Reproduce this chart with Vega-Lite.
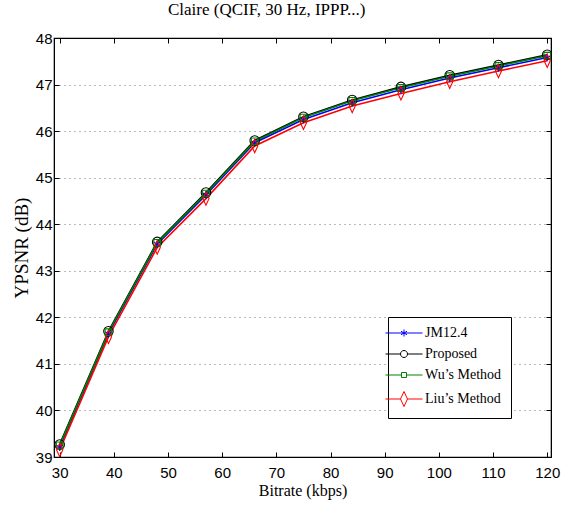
{
  "$schema": "https://vega.github.io/schema/vega-lite/v6.json",
  "autosize": "none",
  "width": 497,
  "height": 419,
  "padding": {"left": 54, "top": 38, "right": 14, "bottom": 50},
  "background": "white",
  "title": {
    "text": "Claire (QCIF, 30 Hz, IPPP...)",
    "font": "Liberation Serif",
    "fontSize": 17,
    "fontWeight": "normal",
    "color": "black",
    "anchor": "start",
    "frame": "group",
    "dx": 114,
    "offset": 12
  },
  "config": {
    "view": {"stroke": "black", "strokeWidth": 1.2},
    "axis": {
      "labelFont": "Liberation Sans",
      "labelFontSize": 15,
      "labelColor": "black",
      "titleFont": "Liberation Serif",
      "titleFontSize": 16,
      "titleFontWeight": "normal",
      "titleColor": "black",
      "domainColor": "black",
      "tickColor": "black",
      "tickSize": -5,
      "grid": false
    }
  },
  "data": {
    "values": [
      {"bitrate": 30, "ypsnr": 39.21, "method": "JM12.4"},
      {"bitrate": 39, "ypsnr": 41.65, "method": "JM12.4"},
      {"bitrate": 48, "ypsnr": 43.57, "method": "JM12.4"},
      {"bitrate": 57, "ypsnr": 44.63, "method": "JM12.4"},
      {"bitrate": 66, "ypsnr": 45.75, "method": "JM12.4"},
      {"bitrate": 75, "ypsnr": 46.25, "method": "JM12.4"},
      {"bitrate": 84, "ypsnr": 46.61, "method": "JM12.4"},
      {"bitrate": 93, "ypsnr": 46.89, "method": "JM12.4"},
      {"bitrate": 102, "ypsnr": 47.14, "method": "JM12.4"},
      {"bitrate": 111, "ypsnr": 47.36, "method": "JM12.4"},
      {"bitrate": 120, "ypsnr": 47.58, "method": "JM12.4"},
      {"bitrate": 30, "ypsnr": 39.27, "method": "Proposed"},
      {"bitrate": 39, "ypsnr": 41.70, "method": "Proposed"},
      {"bitrate": 48, "ypsnr": 43.62, "method": "Proposed"},
      {"bitrate": 57, "ypsnr": 44.68, "method": "Proposed"},
      {"bitrate": 66, "ypsnr": 45.80, "method": "Proposed"},
      {"bitrate": 75, "ypsnr": 46.31, "method": "Proposed"},
      {"bitrate": 84, "ypsnr": 46.67, "method": "Proposed"},
      {"bitrate": 93, "ypsnr": 46.95, "method": "Proposed"},
      {"bitrate": 102, "ypsnr": 47.20, "method": "Proposed"},
      {"bitrate": 111, "ypsnr": 47.42, "method": "Proposed"},
      {"bitrate": 120, "ypsnr": 47.64, "method": "Proposed"},
      {"bitrate": 30, "ypsnr": 39.25, "method": "Wu’s Method"},
      {"bitrate": 39, "ypsnr": 41.68, "method": "Wu’s Method"},
      {"bitrate": 48, "ypsnr": 43.60, "method": "Wu’s Method"},
      {"bitrate": 57, "ypsnr": 44.66, "method": "Wu’s Method"},
      {"bitrate": 66, "ypsnr": 45.78, "method": "Wu’s Method"},
      {"bitrate": 75, "ypsnr": 46.29, "method": "Wu’s Method"},
      {"bitrate": 84, "ypsnr": 46.65, "method": "Wu’s Method"},
      {"bitrate": 93, "ypsnr": 46.93, "method": "Wu’s Method"},
      {"bitrate": 102, "ypsnr": 47.18, "method": "Wu’s Method"},
      {"bitrate": 111, "ypsnr": 47.40, "method": "Wu’s Method"},
      {"bitrate": 120, "ypsnr": 47.62, "method": "Wu’s Method"},
      {"bitrate": 30, "ypsnr": 39.15, "method": "Liu’s Method"},
      {"bitrate": 39, "ypsnr": 41.58, "method": "Liu’s Method"},
      {"bitrate": 48, "ypsnr": 43.50, "method": "Liu’s Method"},
      {"bitrate": 57, "ypsnr": 44.55, "method": "Liu’s Method"},
      {"bitrate": 66, "ypsnr": 45.68, "method": "Liu’s Method"},
      {"bitrate": 75, "ypsnr": 46.18, "method": "Liu’s Method"},
      {"bitrate": 84, "ypsnr": 46.54, "method": "Liu’s Method"},
      {"bitrate": 93, "ypsnr": 46.81, "method": "Liu’s Method"},
      {"bitrate": 102, "ypsnr": 47.06, "method": "Liu’s Method"},
      {"bitrate": 111, "ypsnr": 47.29, "method": "Liu’s Method"},
      {"bitrate": 120, "ypsnr": 47.51, "method": "Liu’s Method"}
    ]
  },
  "layer": [
    {
      "mark": {"type": "line", "strokeWidth": 1.6, "clip": true},
      "encoding": {
        "x": {
          "field": "bitrate", "type": "quantitative",
          "scale": {"domain": [28.95, 120.7], "nice": false, "zero": false},
          "axis": {"values": [30, 40, 50, 60, 70, 80, 90, 100, 110, 120], "title": "Bitrate (kbps)", "labelPadding": 13, "titlePadding": 2}
        },
        "y": {
          "field": "ypsnr", "type": "quantitative",
          "scale": {"domain": [39, 48], "nice": false, "zero": false},
          "axis": {"values": [39, 40, 41, 42, 43, 44, 45, 46, 47, 48], "title": "YPSNR (dB)", "titleFontSize": 19, "labelPadding": 7, "titlePadding": 4, "grid": true, "gridDash": [1, 4], "gridColor": "#555555", "gridOpacity": 0.8, "gridWidth": 1}
        },
        "color": {
          "field": "method", "type": "nominal",
          "scale": {"domain": ["JM12.4", "Proposed", "Wu’s Method", "Liu’s Method"], "range": ["#0000ff", "#000000", "#008000", "#ff0000"]},
          "legend": null
        }
      }
    },
    {
      "mark": {"type": "point", "filled": false, "strokeWidth": 1.1, "opacity": 1, "clip": true},
      "encoding": {
        "x": {"field": "bitrate", "type": "quantitative", "axis": null},
        "y": {"field": "ypsnr", "type": "quantitative", "axis": null},
        "color": {
          "field": "method", "type": "nominal",
          "scale": {"domain": ["JM12.4", "Proposed", "Wu’s Method", "Liu’s Method"], "range": ["#0000ff", "#000000", "#008000", "#ff0000"]},
          "legend": null
        },
        "shape": {
          "field": "method", "type": "nominal",
          "scale": {"domain": ["JM12.4", "Proposed", "Wu’s Method", "Liu’s Method"], "range": [
            "M0,-0.8L0,0.8M-0.7,-0.4L0.7,0.4M-0.7,0.4L0.7,-0.4",
            "circle",
            "M-0.7,-0.7L0.7,-0.7L0.7,0.7L-0.7,0.7Z",
            "M0,-1.4L0.65,0L0,1.4L-0.65,0Z"
          ]},
          "legend": null
        },
        "size": {"value": 90}
      }
    },
    {
      "mark": {"type": "point", "filled": false, "strokeWidth": 1, "opacity": 0},
      "encoding": {
        "x": {"field": "bitrate", "type": "quantitative", "axis": {"orient": "top", "values": [30, 40, 50, 60, 70, 80, 90, 100, 110, 120], "labels": false, "title": null}},
        "y": {"field": "ypsnr", "type": "quantitative", "axis": {"orient": "right", "values": [39, 40, 41, 42, 43, 44, 45, 46, 47, 48], "labels": false, "title": null}},
        "color": {
          "field": "method", "type": "nominal",
          "scale": {"domain": ["JM12.4", "Proposed", "Wu’s Method", "Liu’s Method"], "range": ["#0000ff", "#000000", "#008000", "#ff0000"]},
          "legend": {
            "title": null,
            "orient": "none",
            "legendX": 334,
            "legendY": 279,
            "strokeColor": "black",
            "fillColor": "white",
            "padding": 9,
            "labelFont": "Liberation Serif",
            "labelFontSize": 14,
            "labelColor": "black",
            "labelOffset": 14,
            "rowPadding": 7,
            "symbolOpacity": 1,
            "symbolStrokeWidth": 1
          }
        },
        "shape": {
          "field": "method", "type": "nominal",
          "scale": {"domain": ["JM12.4", "Proposed", "Wu’s Method", "Liu’s Method"], "range": [
            "M-3.7,0L3.7,0M0,-0.7L0,0.7M-0.6,-0.35L0.6,0.35M-0.6,0.35L0.6,-0.35",
            "M-3.7,0L-0.7,0M0.7,0L3.7,0M-0.7,0A0.7,0.7 0 1,0 0.7,0A0.7,0.7 0 1,0 -0.7,0Z",
            "M-3.7,0L-0.5,0M0.5,0L3.7,0M-0.5,-0.5L0.5,-0.5L0.5,0.5L-0.5,0.5Z",
            "M-3.7,0L-0.7,0M0.7,0L3.7,0M0,-1.5L0.7,0L0,1.5L-0.7,0Z"
          ]},
          "legend": {
            "title": null,
            "orient": "none",
            "legendX": 334,
            "legendY": 279,
            "symbolOpacity": 1
          }
        },
        "size": {"value": 100}
      }
    }
  ],
  "resolve": {
    "scale": {"color": "independent", "shape": "independent"},
    "axis": {"x": "independent", "y": "independent"}
  }
}
